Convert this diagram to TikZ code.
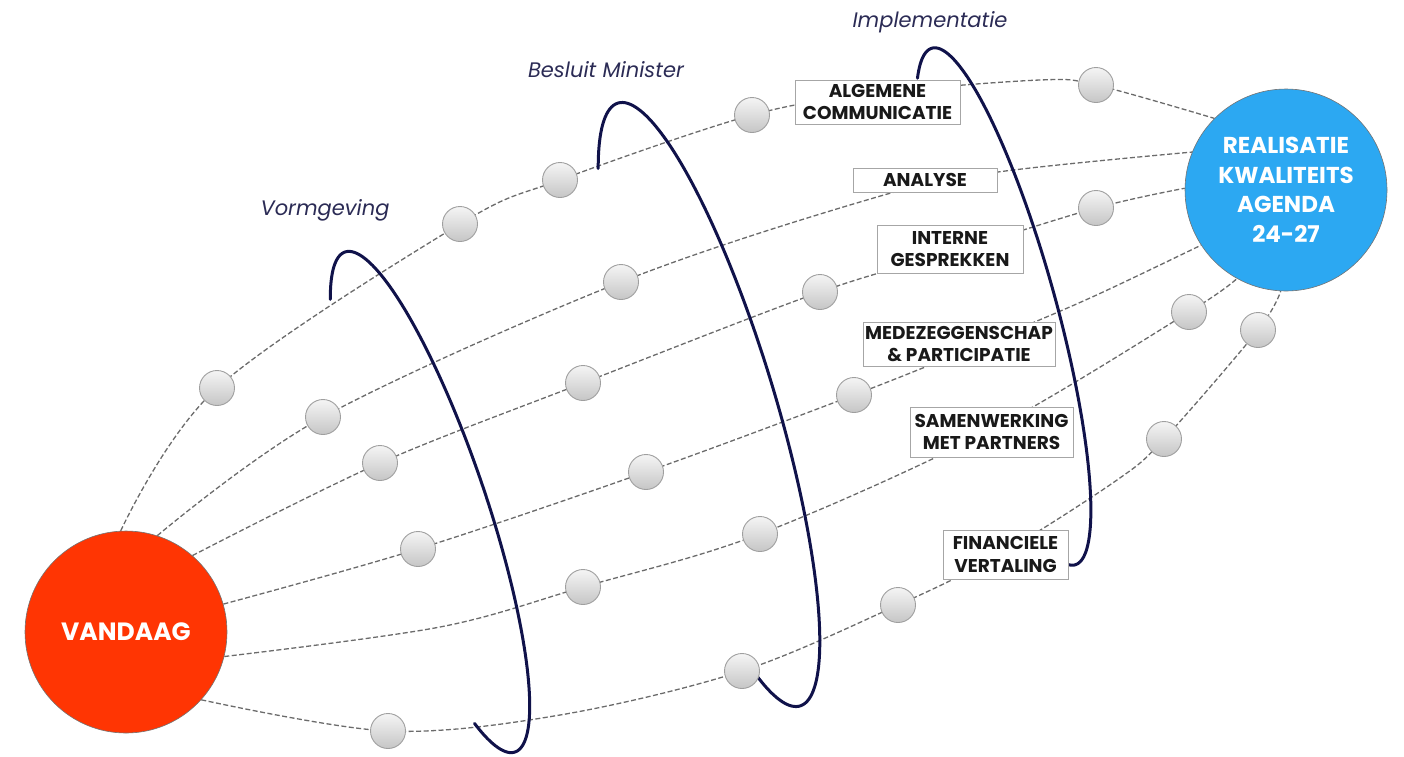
\documentclass[tikz,border=0pt]{standalone}
\usepackage{fontspec}
\setmainfont{Poppins}
\pgfdeclarelayer{background}
\pgfsetlayers{background,main}
\definecolor{redc}{HTML}{FF3503}
\definecolor{bluec}{HTML}{2CA8F2}
\definecolor{navy}{HTML}{10124A}
\definecolor{labc}{HTML}{2B2B55}
\tikzset{
  bigcirc/.style={circle, minimum size=202pt, inner sep=0pt, draw=black!55, line width=0.6pt,
    text=white, font=\bfseries\fontsize{23}{29.5}\selectfont, align=center},
  ball/.style={circle, minimum size=35pt, inner sep=0pt, draw=gray!75, line width=0.9pt,
    top color=gray!8, bottom color=gray!45},
  tbox/.style={rectangle, draw=gray!70, line width=0.8pt, fill=white, inner sep=0pt, align=center,
    text=black!90, font=\bfseries\fontsize{18.5}{22.5}\selectfont},
  phase/.style={font=\itshape\fontsize{21}{24}\selectfont, text=labc},
  dline/.style={draw=black!58, line width=1.3pt, dash pattern=on 5pt off 2.5pt},
  arcline/.style={draw=navy, line width=3pt, line cap=round},
}
\begin{document}
\begin{tikzpicture}[x=1pt,y=-1pt]
\useasboundingbox (0,0) rectangle (1404,756);
% big circles
\node[bigcirc, fill=redc, font=\bfseries\fontsize{25}{30}\selectfont] (vand) at (126,632) {VANDAAG};
\node[bigcirc, fill=bluec] (real) at (1286,190) {REALISATIE\\KWALITEITS\\AGENDA\\24-27};
% balls
\foreach \n/\x/\y in {a1/217/388, a2/460/224, a3/560/180, a4/752/115, a5/1096/85,
  b1/323/417, b2/621/282,
  c1/380/463, c2/583/383, c3/820/292, c4/1096/208,
  d1/418/549, d2/646/472, d3/854/395,
  e1/583/587, e2/760/534, e3/1189/312,
  f1/388/731, f2/742/671, f3/898/605, f4/1164/439, f5/1258/330}
  \node[ball] (\n) at (\x,\y) {};
% boxes
\node[tbox, minimum width=165pt, minimum height=44pt] (bx1) at (877.5,102) {ALGEMENE\\COMMUNICATIE};
\node[tbox, minimum width=144pt, minimum height=24pt] (bx2) at (925,180) {ANALYSE};
\node[tbox, minimum width=146pt, minimum height=48pt] (bx3) at (950,249) {INTERNE\\GESPREKKEN};
\node[tbox, minimum width=192pt, minimum height=44pt] (bx4) at (959,344) {MEDEZEGGENSCHAP\\\& PARTICIPATIE};
\node[tbox, minimum width=163pt, minimum height=50pt] (bx5) at (991.5,432) {SAMENWERKING\\MET PARTNERS};
\node[tbox, minimum width=125pt, minimum height=49pt] (bx6) at (1005.5,554.5) {FINANCIELE\\VERTALING};
% phase labels
\node[phase] (ph1) at (325,210) {Vormgeving};
\node[phase] (ph2) at (606,70) {Besluit Minister};
\node[phase] (ph3) at (930,22) {Implementatie};
\begin{pgfonlayer}{background}
% dashed connectors
\draw[dline] plot[smooth, tension=0.55] coordinates {(vand.93) (a1) (a2) (a3) (a4) (880,93) (1040,80) (a5) (real.135)};
\draw[dline] plot[smooth, tension=0.55] coordinates {(vand.72) (b1) (b2) (877,197) (998,172) (real.158)};
\draw[dline] plot[smooth, tension=0.55] coordinates {(vand.49) (c1) (c2) (c3) (953,252) (c4) (real.179)};
\draw[dline] plot[smooth, tension=0.55] coordinates {(vand.16) (d1) (d2) (d3) (984,343) (1090,298) (real.213)};
\draw[dline] plot[smooth, tension=0.55] coordinates {(vand.-14) (440,627) (e1) (e2) (989,431) (e3) (real.241)};
\draw[dline] plot[smooth, tension=0.55] coordinates {(vand.-42) (f1) (560,715) (f2) (f3) (999,555) (1117,480) (f4) (f5) (real.267)};
% phase arcs (parts of tilted ellipses)
\draw[arcline] plot[domain=212:-32, samples=120, smooth]
  ({430 + 264*cos(\x)*0.322 + 55*sin(\x)*0.947}, {502 + 264*cos(\x)*0.947 - 55*sin(\x)*0.322});
\draw[arcline] plot[domain=215:-30, samples=120, smooth]
  ({709 + 315*cos(\x)*0.289 + 66*sin(\x)*0.957}, {404.5 + 315*cos(\x)*0.957 - 66*sin(\x)*0.289});
\draw[arcline] plot[domain=205:-10, samples=120, smooth]
  ({1003.5 + 268*cos(\x)*0.267 + 52*sin(\x)*0.964}, {306.5 + 268*cos(\x)*0.964 - 52*sin(\x)*0.267});
\end{pgfonlayer}
\end{tikzpicture}
\end{document}
